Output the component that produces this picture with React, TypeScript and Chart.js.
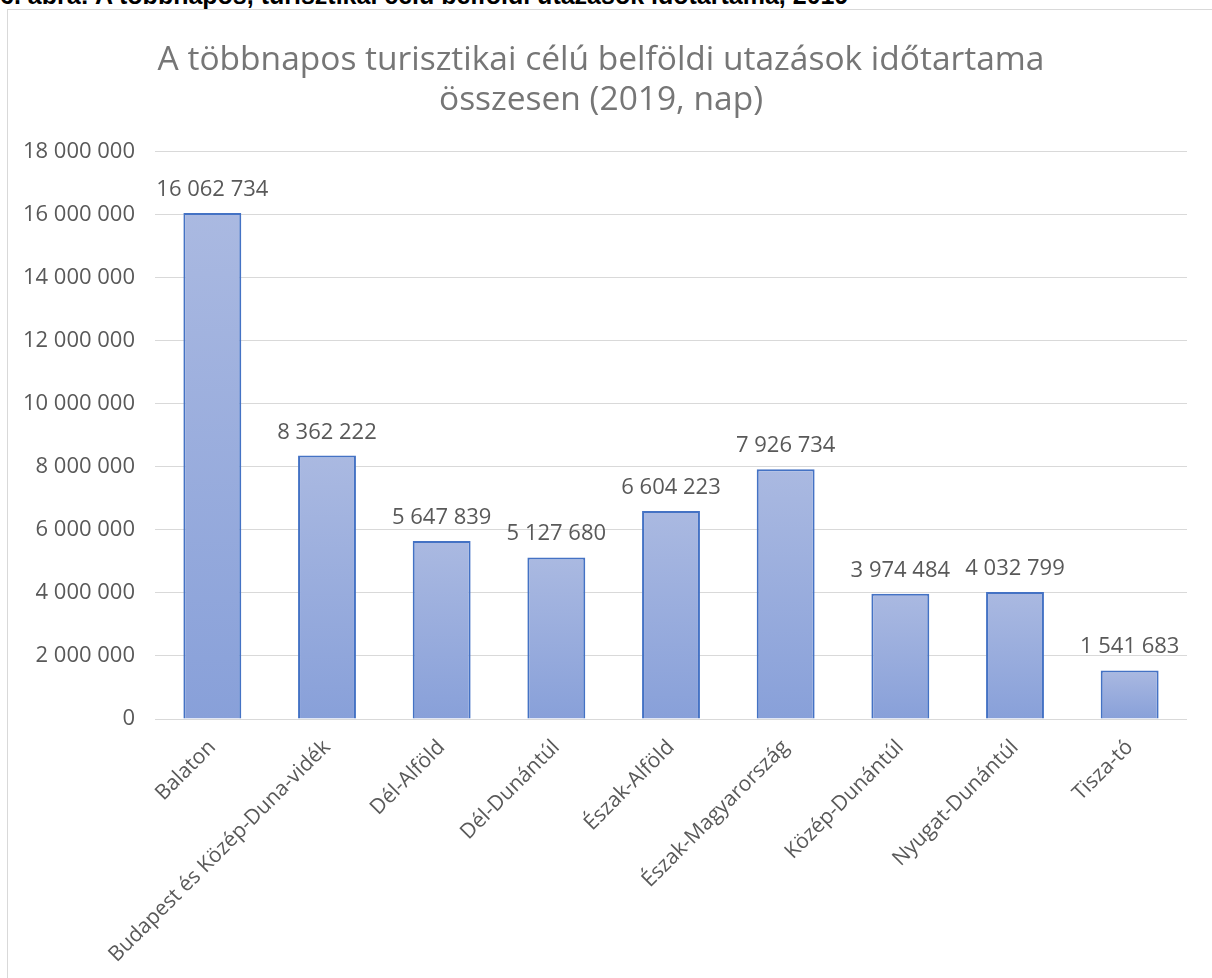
import React, { useEffect, useRef } from "react";
import { Chart, registerables } from "chart.js";

Chart.register(...registerables);

const headerText = "6. ábra: A többnapos, turisztikai célú belföldi utazások időtartama, 2019";
const titleLines = [
  "A többnapos turisztikai célú belföldi utazások időtartama",
  "összesen (2019, nap)",
];
const categories = [
  "Balaton",
  "Budapest és Közép-Duna-vidék",
  "Dél-Alföld",
  "Dél-Dunántúl",
  "Észak-Alföld",
  "Észak-Magyarország",
  "Közép-Dunántúl",
  "Nyugat-Dunántúl",
  "Tisza-tó",
];
const values = [16062734, 8362222, 5647839, 5127680, 6604223, 7926734, 3974484, 4032799, 1541683];
const yMin = 0;
const yMax = 18000000;
const yStep = 2000000;

const fmt = (v: number) => Math.round(v).toString().replace(/\B(?=(\d{3})+(?!\d))/g, " ");

const FONT = "'Open Sans', 'Noto Sans', sans-serif";
const TEXT = "#595959";

const dataLabelPlugin = {
  id: "dataLabels",
  afterDatasetsDraw(chart: any) {
    const { ctx } = chart;
    const meta = chart.getDatasetMeta(0);
    ctx.save();
    ctx.fillStyle = TEXT;
    ctx.font = `22px ${FONT}`;
    ctx.textAlign = "center";
    ctx.textBaseline = "alphabetic";
    meta.data.forEach((el: any, i: number) => {
      ctx.fillText(fmt(values[i]), el.x, el.y - 17);
    });
    ctx.restore();
  },
};

export default function App() {
  const ref = useRef<HTMLCanvasElement | null>(null);

  useEffect(() => {
    if (!ref.current) return;
    const chart = new Chart(ref.current, {
      type: "bar",
      data: {
        labels: categories,
        datasets: [
          {
            data: values,
            backgroundColor: (c: any) => {
              const ch = c.chart;
              const area = ch.chartArea;
              if (!area || c.type !== "data") return "#9aaedd";
              const yTop = ch.scales.y.getPixelForValue(c.raw);
              const yBot = ch.scales.y.getPixelForValue(0);
              if (!isFinite(yTop) || !isFinite(yBot) || yTop === yBot) return "#9aaedd";
              const g = ch.ctx.createLinearGradient(0, yTop, 0, yBot);
              g.addColorStop(0, "#aab9e1");
              g.addColorStop(1, "#88a0d9");
              return g;
            },
            borderColor: "#4472c4",
            borderWidth: 2,
            borderSkipped: "bottom",
            barPercentage: 0.505,
            categoryPercentage: 1,
          },
        ],
      },
      options: {
        responsive: false,
        animation: false,
        layout: { padding: { left: 15, right: 25, top: 0, bottom: 0 } },
        plugins: {
          legend: { display: false },
          tooltip: { enabled: false },
          title: {
            display: true,
            text: titleLines,
            color: "#767676",
            font: { family: FONT, size: 33.5, weight: "normal", lineHeight: 1.194 },
            padding: { top: 40, bottom: 32 },
          },
        },
        scales: {
          x: {
            grid: { display: false },
            border: { display: false },
            ticks: {
              color: TEXT,
              font: { family: FONT, size: 21 },
              maxRotation: 45,
              minRotation: 45,
              autoSkip: false,
              padding: 8,
            },
            afterFit: (s: any) => {
              s.height = 259;
            },
          },
          y: {
            min: yMin,
            max: yMax,
            grid: { color: "#d9d9d9", lineWidth: 1, drawTicks: false },
            border: { display: false },
            ticks: {
              stepSize: yStep,
              color: TEXT,
              font: { family: FONT, size: 22 },
              padding: 20,
              callback: (v: any) => fmt(Number(v)),
            },
            afterFit: (s: any) => {
              s.width = 140;
            },
          },
        },
      },
      plugins: [dataLabelPlugin],
    } as any);
    return () => chart.destroy();
  }, []);

  return (
    <div style={{ position: "absolute", left: 0, top: 0, width: 1212, height: 978, overflow: "hidden", background: "#fff" }}>
      <div
        style={{
          position: "absolute",
          left: 0,
          top: -17,
          fontFamily: "'Liberation Sans', Arial, sans-serif",
          fontWeight: "bold",
          fontSize: 25,
          lineHeight: "25px",
          color: "#000",
          whiteSpace: "nowrap",
        }}
      >
        {headerText}
      </div>
      <div
        style={{
          position: "absolute",
          left: 7,
          top: 9,
          width: 1230,
          height: 1000,
          border: "1px solid #d9d9d9",
          boxSizing: "border-box",
        }}
      />
      <canvas ref={ref} width={1212} height={978} style={{ position: "absolute", left: 0, top: 0 }} />
    </div>
  );
}
